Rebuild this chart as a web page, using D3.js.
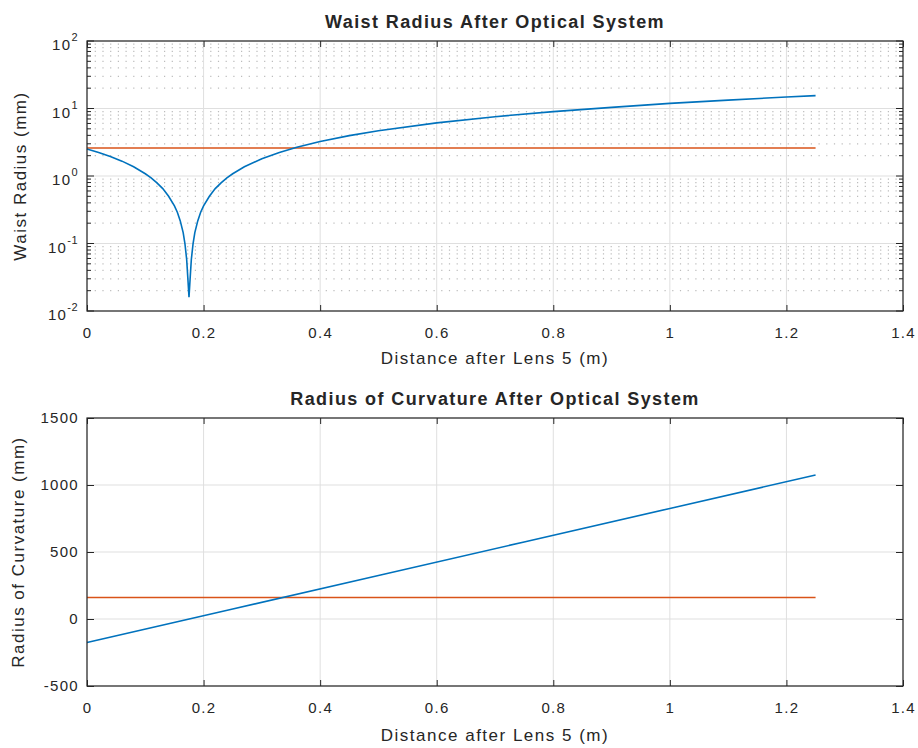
<!DOCTYPE html>
<html>
<head>
<meta charset="utf-8">
<script src="https://cdn.jsdelivr.net/npm/d3@7"></script>
<style>
  body { margin: 0; background: #fff; }
  svg text { font-family: "Liberation Sans", Arial, Helvetica, sans-serif; fill: #262626; }
</style>
</head>
<body>
<svg id="canvas" width="918" height="748"></svg>
<script>
// ---- data ----
var waistX = [0, 0.02, 0.04, 0.06, 0.08, 0.1, 0.11, 0.12, 0.13, 0.14, 0.15, 0.155, 0.16, 0.165,
              0.168, 0.171, 0.173, 0.175, 0.177, 0.179, 0.182, 0.185, 0.19, 0.195, 0.2, 0.21,
              0.22, 0.23, 0.24, 0.25, 0.27, 0.3, 0.33, 0.36, 0.4, 0.45, 0.5, 0.6, 0.7, 0.8,
              0.9, 1.0, 1.1, 1.2, 1.25];
var waistR = [2.52, 2.23, 1.94, 1.66, 1.37, 1.08, 0.94, 0.79, 0.65, 0.50, 0.36, 0.29, 0.216, 0.145,
              0.10, 0.058, 0.031, 0.016, 0.031, 0.058, 0.10, 0.145, 0.216, 0.29, 0.36, 0.50,
              0.65, 0.79, 0.94, 1.08, 1.37, 1.80, 2.23, 2.66, 3.24, 3.96, 4.68, 6.12, 7.56, 9.0,
              10.4, 11.9, 13.3, 14.8, 15.5];
var waistTarget = [2.6, 2.6];          // orange reference line (mm)
var curvX = [0, 0.25, 0.5, 0.75, 1.0, 1.25];
var curvR = [-175, 75, 325, 575, 825, 1075];
var curvTarget = [160, 160];
var lineX = [0, 1.25];

var xTicks = [0, 0.2, 0.4, 0.6, 0.8, 1, 1.2, 1.4];
var logTicks = [0.01, 0.1, 1, 10, 100];
var logExp = ['-2', '-1', '0', '1', '2'];
var curvTicks = [-500, 0, 500, 1000, 1500];

var blue = '#0072BD', orange = '#D95319', axisCol = '#262626', gridCol = '#dfdfdf';
var svg = d3.select('#canvas');

// ************************************************************************ //
// shared helpers

function drawFrame(g, w, h){
  g.append('rect').attr('x', 0).attr('y', 0).attr('width', w).attr('height', h)
    .style('fill', 'none').style('stroke', axisCol).style('stroke-width', 1.2);
}

function tickText(sel){
  sel.style('font-size', '15px').style('letter-spacing', '1.3px').style('fill', axisCol)
    .attr('font-family', null);
}

function xAxes(g, x, w, h){
  var bot = g.append('g').attr('transform', 'translate(0,' + h + ')')
    .call(d3.axisBottom(x).tickValues(xTicks).tickSize(-6).tickPadding(16)
      .tickFormat(d => String(d)));
  var top = g.append('g')
    .call(d3.axisTop(x).tickValues(xTicks).tickSize(-6).tickFormat(''));
  [bot, top].forEach(a => {
    a.select('.domain').remove();
    a.selectAll('line').style('stroke', axisCol);
  });
  tickText(bot.selectAll('text'));
}

function labels(g, w, h, ttl, ylab, xlabY, ylabX){
  g.append('text').attr('x', w / 2).attr('y', -13).attr('text-anchor', 'middle')
    .style('font-size', '18px').style('font-weight', 'bold').style('letter-spacing', '1.4px').text(ttl);
  g.append('text').attr('x', w / 2).attr('y', xlabY).attr('text-anchor', 'middle')
    .style('font-size', '17px').style('letter-spacing', '1.5px').text('Distance after Lens 5 (m)');
  g.append('text').attr('transform', 'translate(' + ylabX + ',' + (h / 2) + ') rotate(-90)')
    .attr('text-anchor', 'middle').style('font-size', '17px').style('letter-spacing', '1.5px').text(ylab);
}

// ************************************************************************ //
// Top: waist radius (log)

(function(){
  var L = 87, T = 41, W = 816, H = 270;
  var g = svg.append('g').attr('transform', 'translate(' + L + ',' + T + ')');
  var x = d3.scaleLinear().domain([0, 1.4]).range([0, W]);
  var y = d3.scaleLog().domain([0.01, 100]).range([H, 0]);

  // minor grid (dotted)
  var minors = [];
  [0.01, 0.1, 1, 10].forEach(b => { for (var k = 2; k <= 9; k++) minors.push(b * k); });
  g.selectAll('.mgrid').data(minors).enter().append('line')
    .attr('x1', 0).attr('x2', W).attr('y1', d => y(d)).attr('y2', d => y(d))
    .style('stroke', '#bcbcbc').style('stroke-width', 1.2).style('stroke-dasharray', '1.2,6.5');
  // major grid
  g.selectAll('.hgrid').data(logTicks).enter().append('line')
    .attr('x1', 0).attr('x2', W).attr('y1', d => y(d)).attr('y2', d => y(d))
    .style('stroke', gridCol);
  g.selectAll('.vgrid').data(xTicks).enter().append('line')
    .attr('x1', d => x(d)).attr('x2', d => x(d)).attr('y1', 0).attr('y2', H)
    .style('stroke', gridCol);

  // y ticks both sides
  var yt = g.append('g');
  logTicks.forEach(d => {
    yt.append('line').attr('x1', 0).attr('x2', 7).attr('y1', y(d)).attr('y2', y(d)).style('stroke', axisCol);
    yt.append('line').attr('x1', W).attr('x2', W - 7).attr('y1', y(d)).attr('y2', y(d)).style('stroke', axisCol);
  });
  minors.forEach(d => {
    yt.append('line').attr('x1', 0).attr('x2', 4).attr('y1', y(d)).attr('y2', y(d)).style('stroke', axisCol);
    yt.append('line').attr('x1', W).attr('x2', W - 4).attr('y1', y(d)).attr('y2', y(d)).style('stroke', axisCol);
  });
  logTicks.forEach((d, i) => {
    var t = g.append('text').attr('x', -9).attr('y', y(d) + 9).attr('text-anchor', 'end')
      .style('font-size', '15px').style('letter-spacing', '1.3px');
    t.append('tspan').text('10');
    t.append('tspan').attr('dy', -9).style('font-size', '11px').style('letter-spacing', '0.5px').text(logExp[i]);
  });

  xAxes(g, x, W, H);

  var line = d3.line().x(d => x(d[0])).y(d => y(d[1]));
  g.append('path').datum(lineX.map((d, i) => [d, waistTarget[i]])).attr('d', line)
    .style('fill', 'none').style('stroke', orange).style('stroke-width', 1.6);
  g.append('path').datum(waistX.map((d, i) => [d, waistR[i]])).attr('d', line)
    .style('fill', 'none').style('stroke', blue).style('stroke-width', 1.6);

  drawFrame(g, W, H);
  labels(g, W, H, 'Waist Radius After Optical System', 'Waist Radius (mm)', H + 53, -61);
})();

// ************************************************************************ //
// Bottom: radius of curvature

(function(){
  var L = 87, T = 418, W = 816, H = 268;
  var g = svg.append('g').attr('transform', 'translate(' + L + ',' + T + ')');
  var x = d3.scaleLinear().domain([0, 1.4]).range([0, W]);
  var y = d3.scaleLinear().domain([-500, 1500]).range([H, 0]);

  g.selectAll('.hgrid').data(curvTicks).enter().append('line')
    .attr('x1', 0).attr('x2', W).attr('y1', d => y(d)).attr('y2', d => y(d))
    .style('stroke', gridCol);
  g.selectAll('.vgrid').data(xTicks).enter().append('line')
    .attr('x1', d => x(d)).attr('x2', d => x(d)).attr('y1', 0).attr('y2', H)
    .style('stroke', gridCol);

  var left = g.append('g').call(d3.axisLeft(y).tickValues(curvTicks).tickSize(-7).tickPadding(8)
    .tickFormat(d => String(d)));
  var right = g.append('g').attr('transform', 'translate(' + W + ',0)')
    .call(d3.axisRight(y).tickValues(curvTicks).tickSize(-7).tickFormat(''));
  [left, right].forEach(a => { a.select('.domain').remove(); a.selectAll('line').style('stroke', axisCol); });
  tickText(left.selectAll('text'));

  xAxes(g, x, W, H);

  var line = d3.line().x(d => x(d[0])).y(d => y(d[1]));
  g.append('path').datum(lineX.map((d, i) => [d, curvTarget[i]])).attr('d', line)
    .style('fill', 'none').style('stroke', orange).style('stroke-width', 1.6);
  g.append('path').datum(curvX.map((d, i) => [d, curvR[i]])).attr('d', line)
    .style('fill', 'none').style('stroke', blue).style('stroke-width', 1.6);

  drawFrame(g, W, H);
  labels(g, W, H, 'Radius of Curvature After Optical System', 'Radius of Curvature (mm)', H + 55, -63);
})();
</script>
</body>
</html>
